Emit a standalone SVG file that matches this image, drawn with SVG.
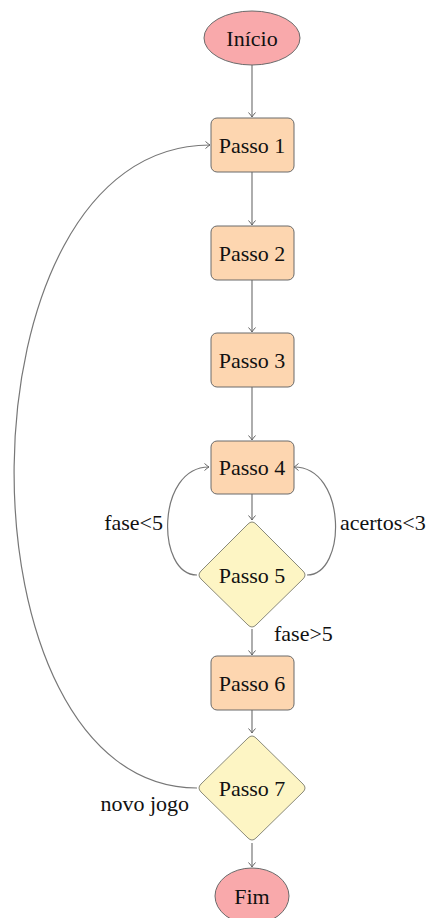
<svg xmlns="http://www.w3.org/2000/svg" width="433" height="918" viewBox="0 0 433 918">
  <style>
    text { font-family: "Liberation Serif", "Times New Roman", "DejaVu Serif", serif; font-size: 22px; fill: #111; }
    .lbl { text-anchor: middle; }
    .term { fill: #f9a9ab; stroke: #6a6a6a; stroke-width: 1; }
    .step { fill: #fdd6b0; stroke: #6a6a6a; stroke-width: 1; }
    .dec { fill: #fdf5c4; stroke: #8a8a7a; stroke-width: 1; }
    .edge { fill: none; stroke: #777; stroke-width: 1.2; marker-end: url(#arr); }
  </style>
  <defs>
    <marker id="arr" viewBox="-6 -5 7 10" refX="0" refY="0" markerWidth="7" markerHeight="10" markerUnits="userSpaceOnUse" orient="auto">
      <path d="M -4.5 -3.5 Q -1.5 -0.8 0 0 Q -1.5 0.8 -4.5 3.5" fill="none" stroke="#666" stroke-width="1"/>
    </marker>
  </defs>

  <g id="connectors">
    <path class="edge" d="M 252 65 L 252 117"/>
    <path class="edge" d="M 252 172 L 252 225"/>
    <path class="edge" d="M 252 280 L 252 332"/>
    <path class="edge" d="M 252 387 L 252 440"/>
    <path class="edge" d="M 252 494 L 252 520"/>
    <path class="edge" d="M 252 629 L 252 655"/>
    <path class="edge" d="M 252 710 L 252 733"/>
    <path class="edge" d="M 252 843 L 252 867"/>
    <!-- loop back: fase<5 -->
    <path class="edge" d="M 197 575 C 156 575 156 467 209 467"/>
    <!-- loop back: acertos<3 -->
    <path class="edge" d="M 307 575 C 347 575 347 467 294 467"/>
    <!-- new game -->
    <path class="edge" d="M 197 788 C -49 788 -49 145 210 145"/>
    <text x="163" y="530" text-anchor="end">fase&lt;5</text>
    <text x="340" y="530">acertos&lt;3</text>
    <text x="274" y="641">fase&gt;5</text>
    <text x="189" y="811" text-anchor="end">novo jogo</text>
  </g>

  <g id="inicio">
    <ellipse class="term" cx="252" cy="38" rx="48" ry="27"/>
    <text class="lbl" x="252" y="46">Início</text>
  </g>
  <g id="passo1">
    <rect class="step" x="211" y="118" width="83" height="54" rx="6"/>
    <text class="lbl" x="252" y="153">Passo 1</text>
  </g>
  <g id="passo2">
    <rect class="step" x="211" y="226" width="83" height="54" rx="6"/>
    <text class="lbl" x="252" y="261">Passo 2</text>
  </g>
  <g id="passo3">
    <rect class="step" x="211" y="333" width="83" height="54" rx="6"/>
    <text class="lbl" x="252" y="368">Passo 3</text>
  </g>
  <g id="passo4">
    <rect class="step" x="211" y="441" width="83" height="53" rx="6"/>
    <text class="lbl" x="252" y="475">Passo 4</text>
  </g>
  <g id="passo5">
    <path class="dec" d="M 248 524 Q 252 520 256 524 L 303 571 Q 307 575 303 579 L 256 625 Q 252 629 248 625 L 201 579 Q 197 575 201 571 Z"/>
    <text class="lbl" x="252" y="583">Passo 5</text>
  </g>
  <g id="passo6">
    <rect class="step" x="211" y="656" width="83" height="54" rx="6"/>
    <text class="lbl" x="252" y="691">Passo 6</text>
  </g>
  <g id="passo7">
    <path class="dec" d="M 248 738 Q 252 734 256 738 L 303 784 Q 307 788 303 792 L 256 838 Q 252 842 248 838 L 201 792 Q 197 788 201 784 Z"/>
    <text class="lbl" x="252" y="796">Passo 7</text>
  </g>
  <g id="fim">
    <ellipse class="term" cx="252" cy="896" rx="37" ry="28"/>
    <text class="lbl" x="252" y="904">Fim</text>
  </g>
</svg>
